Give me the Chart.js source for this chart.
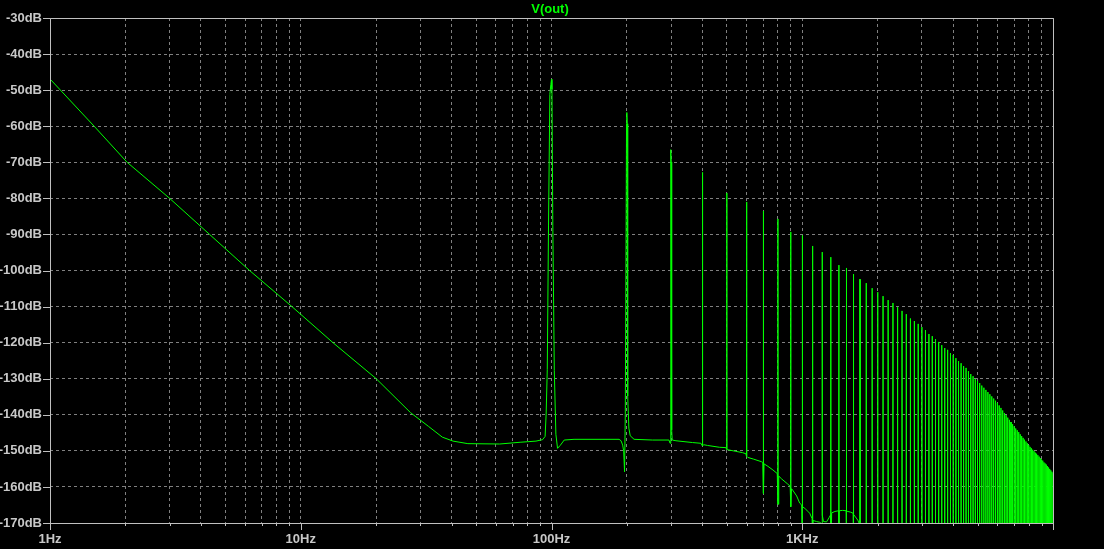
<!DOCTYPE html>
<html><head><meta charset="utf-8">
<script src="https://cdn.jsdelivr.net/npm/chart.js@4"></script>
<style>html,body{margin:0;padding:0;background:#000;overflow:hidden}#wrap{width:1104px;height:549px}</style>
</head><body><div id="wrap"><canvas id="c" width="1104" height="549"></canvas></div>
<script>
// ---- data ----
// 1/f slope, floor and the first three harmonics (100, 200, 300 Hz)
const baseHz = [1, 1.5, 2.03, 3.0, 4.33, 6.25, 9.22, 13.44, 20.0, 27.4, 32.3, 36.7, 40.5, 46.4, 62.1, 75.5, 86.7, 92.1,
  94.3, 95.2, 96.2, 97.3, 98.5, 99.4, 100.0, 100.4, 101.2, 102.6, 104.1, 105.7, 108.3, 112.4, 123.0, 186.0, 189.4, 192.2, 194.0,
  195.6, 196.9, 199.2, 199.7, 200.4, 201.3, 203.5, 206.0, 213.4, 253.0, 294.0, 297.0, 298.5, 299.4, 300.2, 301.5, 303.0, 313.6, 365.2, 394.5];
const baseDb = [-46.9, -60.0, -70.0, -80.0, -90.0, -100.0, -110.0, -120.0, -130.0, -139.4, -143.2, -146.2, -147.3, -148.0, -148.1, -147.6, -147.3, -146.9,
  -146.0, -139.8, -127.4, -87.4, -51.2, -48.4, -47.0, -49.8, -87.4, -127.7, -145.4, -149.3, -148.5, -147.0, -146.8, -146.8, -147.2, -148.4, -150.0,
  -155.8, -140.0, -59.3, -56.2, -59.3, -134.8, -143.7, -145.8, -146.8, -147.0, -147.0, -147.9, -106.0, -66.5, -69.9, -144.2, -147.0, -147.2, -147.7, -147.9];

// noise floor between the higher harmonics
const floorHz = [405, 419, 467, 496, 505, 540, 578, 596, 606, 640, 687, 696, 704, 730, 764, 795, 806, 828, 875, 895, 906, 916, 950, 977, 995,
  1005, 1023, 1050, 1071, 1095, 1105, 1140, 1174, 1195, 1205, 1215, 1250, 1280, 1296, 1310, 1350, 1396, 1405, 1450, 1496, 1505, 1560, 1596, 1605, 1665, 1696, 1723];
const floorDb = [-148.3, -148.5, -149.0, -149.1, -149.7, -150.1, -150.5, -150.8, -151.8, -152.3, -153.0, -153.2, -153.6, -154.3, -155.3, -156.3, -157.0, -157.8, -159.2, -159.8, -160.5, -160.9, -162.5, -164.5, -165.0,
  -165.5, -165.9, -166.7, -167.3, -168.8, -169.3, -169.6, -169.8, -170.2, -167.8, -169.6, -169.7, -168.5, -167.8, -167.2, -166.8, -166.6, -166.6, -166.5, -166.6, -166.7, -167.0, -167.3, -167.6, -169.2, -170.5, -171.5];

// harmonics 400 Hz .. 10 kHz
const harmonicHz = [400, 500, 600, 700, 800, 900, 1000, 1100, 1200, 1300, 1400, 1500, 1600, 1700, 1800, 1900, 2000,
  2100, 2200, 2300, 2400, 2500, 2600, 2700, 2800, 2900, 3000, 3100, 3200, 3300, 3400, 3500, 3600, 3700, 3800, 3900, 4000,
  4100, 4200, 4300, 4400, 4500, 4600, 4700, 4800, 4900, 5000, 5100, 5200, 5300, 5400, 5500, 5600, 5700, 5800, 5900, 6000,
  6100, 6200, 6300, 6400, 6500, 6600, 6700, 6800, 6900, 7000, 7100, 7200, 7300, 7400, 7500, 7600, 7700, 7800, 7900, 8000,
  8100, 8200, 8300, 8400, 8500, 8600, 8700, 8800, 8900, 9000, 9100, 9200, 9300, 9400, 9500, 9600, 9700, 9800, 9900, 10000];
const harmonicPeakDb = [-72.8, -78.5, -81.0, -83.5, -85.7, -89.3, -90.3, -93.2, -94.9, -96.3, -98.5, -99.3, -101.0, -102.4, -103.5, -104.9, -106.0,
  -107.1, -108.2, -109.0, -110.2, -111.2, -112.1, -113.3, -114.0, -114.8, -115.7, -116.5, -117.6, -118.2, -119.0, -119.8, -120.7, -121.5, -122.0, -122.9, -123.4,
  -124.3, -125.1, -125.7, -126.5, -127.0, -127.9, -128.7, -129.3, -130.1, -130.6, -131.2, -131.9, -132.5, -133.1, -133.7, -134.3, -134.9, -135.5, -136.1, -136.7,
  -137.4, -138.1, -138.8, -139.5, -140.1, -140.8, -141.4, -142.0, -142.6, -143.2, -143.8, -144.3, -144.8, -145.4, -145.9, -146.4, -146.9, -147.4, -147.9, -148.4,
  -148.9, -149.3, -149.7, -150.1, -150.5, -150.8, -151.2, -151.6, -152.0, -152.4, -152.7, -153.2, -153.5, -153.8, -154.2, -154.6, -155.0, -155.4, -155.8, -156.2];
const harmonicNullDb = [-148.6, -149.6, -151.5, -161.8, -164.8, -165.5, -180, -180, -180, -180, -180, -180, -180, -180, -180, -180, -180,
  -180, -180, -180, -180, -180, -180, -180, -180, -180, -180, -180, -180, -180, -180, -180, -180, -180, -180, -180, -180,
  -180, -180, -180, -180, -180, -180, -180, -180, -180, -180, -180, -180, -180, -180, -180, -180, -180, -180, -180, -180,
  -180, -180, -180, -180, -180, -180, -180, -180, -180, -180, -180, -180, -180, -180, -180, -180, -180, -180, -180, -180,
  -180, -180, -180, -180, -180, -180, -180, -180, -180, -180, -180, -180, -180, -180, -180, -180, -180, -180, -180, -180];

// axes
const xGridHz = [1,2,3,4,5,6,7,8,9,10,20,30,40,50,60,70,80,90,100,200,300,400,500,600,700,800,900,1000,2000,3000,4000,5000,6000,7000,8000,9000,10000];
const decadeHz = [1, 10, 100, 1000];
const decadeLabels = ['1Hz', '10Hz', '100Hz', '1KHz'];
const yMinDb = -170, yMaxDb = -30, yStepDb = 10;
const titleText = 'V(out)';

// ---- build the trace ----
const pts = [];
baseHz.forEach((f, i) => pts.push({x: f, y: baseDb[i]}));
floorHz.forEach((f, i) => pts.push({x: f, y: floorDb[i]}));
const binHalf = 0.6;
harmonicHz.forEach((f, i) => {
  pts.push({x: f - binHalf, y: harmonicNullDb[i]});
  pts.push({x: f, y: harmonicPeakDb[i]});
  pts.push({x: f + binHalf, y: harmonicNullDb[i]});
});
pts.sort((a, b) => a.x - b.x);

const FONT = {family: "'Liberation Sans', Arial, sans-serif", size: 13, weight: 'bold'};
const LABEL = '#c8c8c8', FRAME = '#c0c0c0', GRID = '#808080', TRACE = '#00ff00';

const decor = {
  id: 'decor',
  beforeDraw(c) { const g = c.ctx; g.save(); g.fillStyle = '#000'; g.fillRect(0, 0, c.width, c.height); g.restore(); },
  afterDraw(c) {
    const g = c.ctx, a = c.chartArea, xs = c.scales.x, ys = c.scales.y;
    const L = Math.round(a.left), R = Math.round(a.right), T = Math.round(a.top), B = Math.round(a.bottom);
    g.save();
    g.strokeStyle = FRAME; g.lineWidth = 1;
    g.beginPath();
    g.moveTo(L + 0.5, T + 0.5); g.lineTo(R + 0.5, T + 0.5); g.lineTo(R + 0.5, B + 0.5); g.lineTo(L + 0.5, B + 0.5); g.closePath();
    g.stroke();
    g.beginPath();
    xGridHz.forEach(v => {
      const px = Math.round(xs.getPixelForValue(v)) + 0.5;
      const len = decadeHz.includes(v) || v === 10000 ? 7 : 3;
      g.moveTo(px, B); g.lineTo(px, B + len);
    });
    for (let v = yMinDb; v <= yMaxDb; v += yStepDb) {
      const py = Math.round(ys.getPixelForValue(v)) + 0.5;
      g.moveTo(L - 7, py); g.lineTo(L, py);
    }
    g.stroke();
    // title
    g.fillStyle = TRACE;
    g.font = 'bold 13px ' + FONT.family;
    g.textAlign = 'center'; g.textBaseline = 'middle';
    g.fillText(titleText, 550, 9);
    g.restore();
  }
};

new Chart(document.getElementById('c'), {
  type: 'scatter',
  data: {datasets: [{data: pts, showLine: true, borderColor: TRACE, borderWidth: 1, pointRadius: 0, pointHoverRadius: 0, tension: 0, fill: false}]},
  options: {
    responsive: false, animation: false, events: [],
    layout: {padding: {left: 0, right: 51, top: 18, bottom: 0}},
    plugins: {legend: {display: false}, tooltip: {enabled: false}, title: {display: false}},
    scales: {
      x: {
        type: 'logarithmic', min: 1, max: 10000,
        afterBuildTicks: s => { s.ticks = xGridHz.map(v => ({value: v})); },
        afterFit: s => { s.height = 26; },
        ticks: {autoSkip: false, maxRotation: 0, minRotation: 0, padding: 9, color: LABEL, font: FONT,
          callback: (v, i, t) => { const k = decadeHz.indexOf(t[i].value); return k >= 0 ? decadeLabels[k] : ''; }},
        grid: {color: GRID, lineWidth: 1, drawTicks: false},
        border: {display: false, dash: [3, 3]}
      },
      y: {
        min: yMinDb, max: yMaxDb,
        afterFit: s => { s.width = 50; },
        ticks: {stepSize: yStepDb, padding: 8, color: LABEL, font: FONT, callback: v => v + 'dB'},
        grid: {color: GRID, lineWidth: 1, drawTicks: false},
        border: {display: false, dash: [3, 3]}
      }
    }
  },
  plugins: [decor]
});
</script>
</body></html>
